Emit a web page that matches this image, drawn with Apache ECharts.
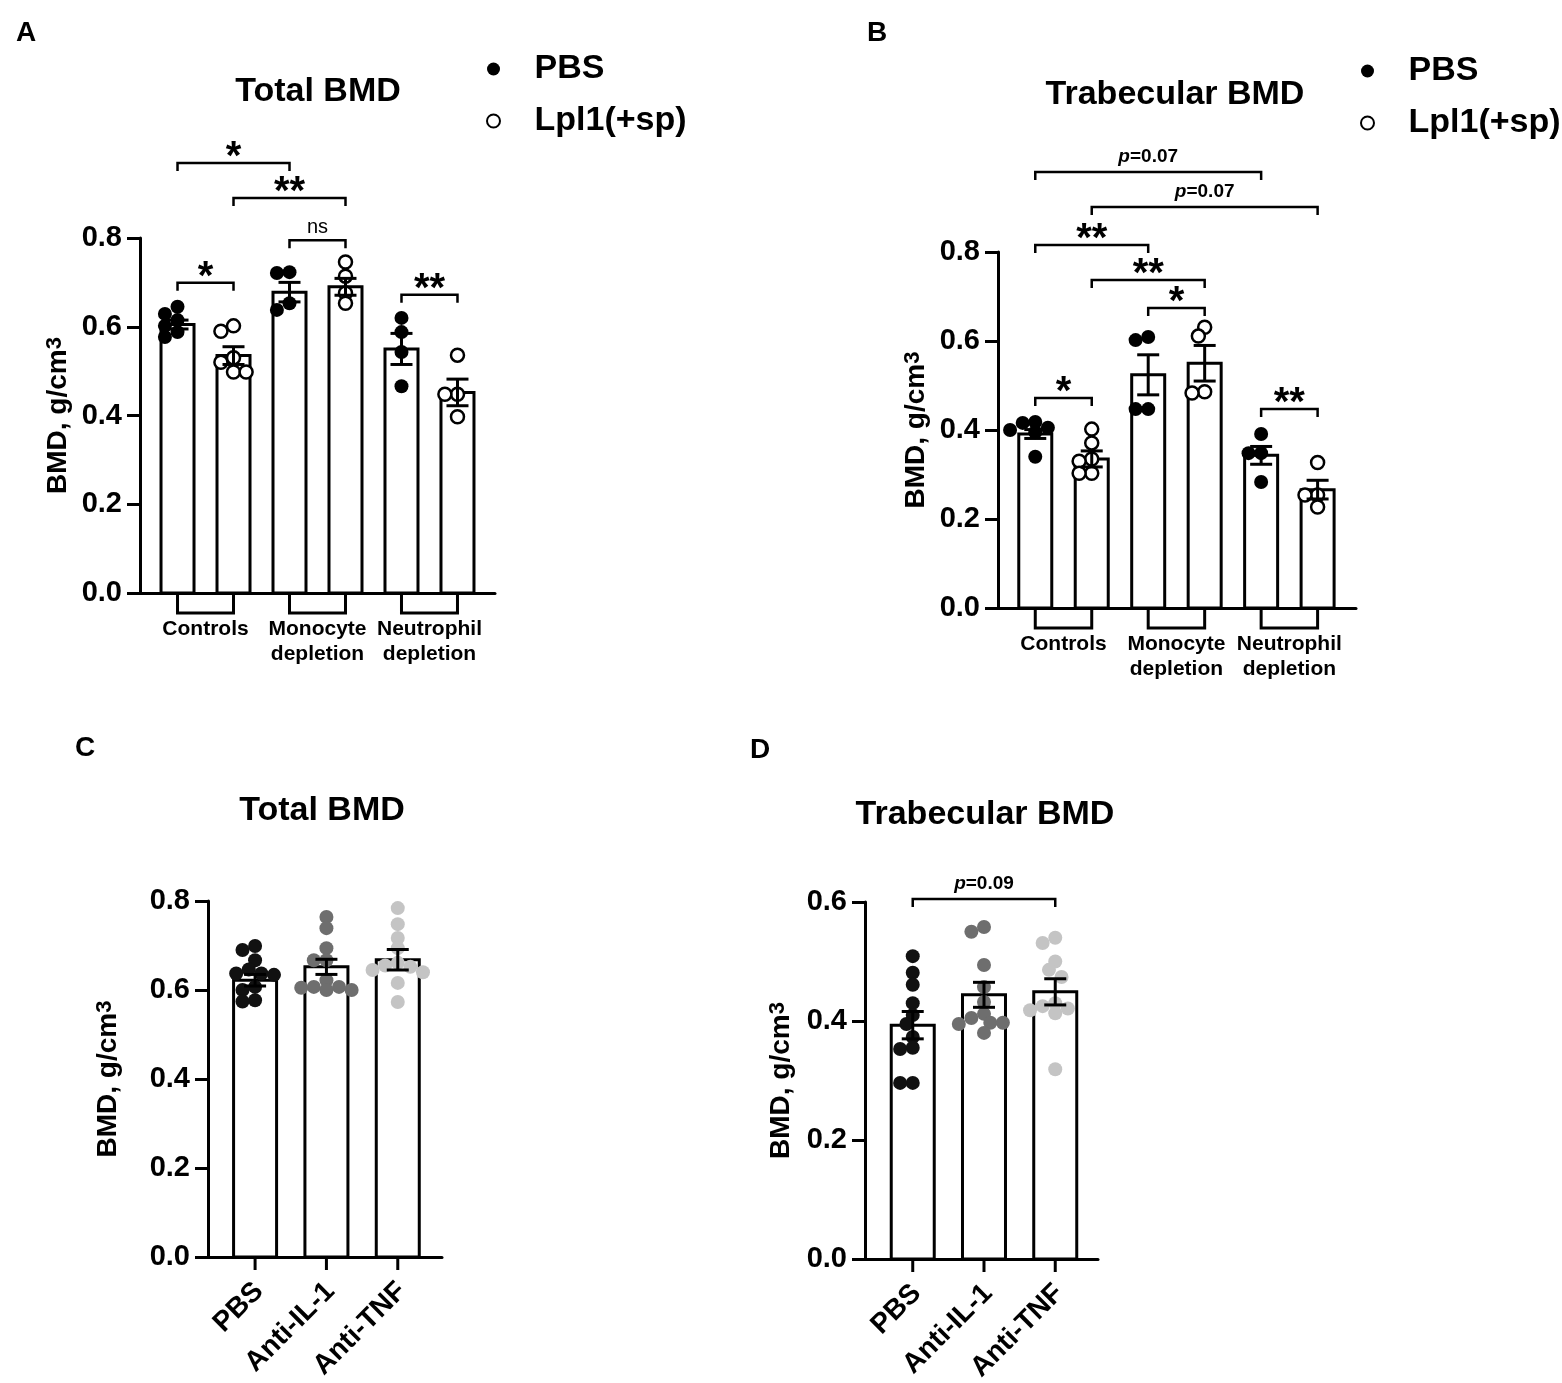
<!DOCTYPE html>
<html lang="en">
<head>
<meta charset="UTF-8">
<title>BMD</title>
<script src="https://cdn.jsdelivr.net/npm/echarts@6.0.0/dist/echarts.min.js"></script>
<style>
    *{
        margin: 0;
        padding: 0;
    }
    body{
        background: #fff;
    }
    .container{
        width: 1562px;
        height: 1383px;
    }
</style>
</head>
<body>
<div class="container"></div>
<script>
    // ---- data ----
    let groupsAB = ['Controls', 'Monocyte\ndepletion', 'Neutrophil\ndepletion']
    let treatments = ['PBS', 'Anti-IL-1', 'Anti-TNF']
    let legendNames = ['PBS', 'Lpl1(+sp)']

    // A: Total BMD, bars in order Controls PBS, Controls Lpl1, Mono PBS, Mono Lpl1, Neut PBS, Neut Lpl1
    let totalMean = [0.605, 0.535, 0.678, 0.690, 0.550, 0.452]
    let totalSem = [0.010, 0.020, 0.022, 0.019, 0.035, 0.030]
    let totalPoints = [
        [0.645, 0.629, 0.615, 0.602, 0.588, 0.577],
        [0.602, 0.590, 0.530, 0.520, 0.498, 0.498],
        [0.723, 0.721, 0.653, 0.638],
        [0.746, 0.714, 0.676, 0.653],
        [0.620, 0.588, 0.543, 0.466],
        [0.536, 0.448, 0.448, 0.397]
    ]
    let totalSig = [[0, 1, 0.699, '*'], [2, 3, 0.795, 'ns'], [4, 5, 0.672, '**'], [0, 2, 0.969, '*'], [1, 3, 0.890, '**']]

    // B: Trabecular BMD
    let trabMean = [0.391, 0.335, 0.524, 0.550, 0.343, 0.266]
    let trabSem = [0.010, 0.018, 0.045, 0.040, 0.020, 0.021]
    let trabPoints = [
        [0.418, 0.416, 0.405, 0.400, 0.395, 0.340],
        [0.402, 0.371, 0.335, 0.330, 0.303, 0.303],
        [0.609, 0.602, 0.447, 0.447],
        [0.631, 0.611, 0.486, 0.483],
        [0.391, 0.348, 0.348, 0.283],
        [0.327, 0.254, 0.254, 0.227]
    ]
    let trabSig = [[0, 1, 0.472, '*'], [2, 3, 0.674, '*'], [4, 5, 0.447, '**'], [0, 2, 0.816, '**'],
        [1, 3, 0.737, '**'], [0, 4, 0.980, 'p=0.07'], [1, 5, 0.901, 'p=0.07']]

    // C: Total BMD after cytokine blockade
    let cytTotalMean = [0.622, 0.652, 0.668]
    let cytTotalSem = [0.013, 0.017, 0.023]
    let cytTotalPoints = [
        [0.699, 0.690, 0.667, 0.646, 0.637, 0.637, 0.634, 0.607, 0.600, 0.577, 0.574],
        [0.764, 0.739, 0.694, 0.667, 0.667, 0.622, 0.607, 0.607, 0.605, 0.600, 0.600],
        [0.784, 0.748, 0.717, 0.694, 0.661, 0.655, 0.652, 0.645, 0.640, 0.616, 0.573]
    ]

    // D: Trabecular BMD after cytokine blockade
    let cytTrabMean = [0.393, 0.444, 0.449]
    let cytTrabSem = [0.023, 0.021, 0.022]
    let cytTrabPoints = [
        [0.509, 0.481, 0.461, 0.430, 0.410, 0.395, 0.373, 0.355, 0.353, 0.296, 0.296],
        [0.558, 0.550, 0.494, 0.457, 0.432, 0.412, 0.405, 0.397, 0.397, 0.395, 0.380],
        [0.540, 0.531, 0.500, 0.486, 0.474, 0.430, 0.425, 0.421, 0.418, 0.413, 0.319]
    ]
    let cytSig = [[0, 2, 0.605, 'p=0.09']]

    // ---- layout ----
    const FONT = '"Liberation Sans", Arial, Helvetica, sans-serif'
    const grids = [
        {left: 140, top: 238, width: 355, height: 355},
        {left: 998, top: 252, width: 358, height: 356},
        {left: 208, top: 901, width: 234, height: 356},
        {left: 865, top: 902, width: 233, height: 357}
    ]
    const xRange = [[-0.67, 5.67], [-0.66, 5.68], [-0.66, 2.62], [-0.67, 2.60]]
    const yMax = [0.8, 0.8, 0.8, 0.6]
    const barPx = [33, 33, 43, 43]
    const dot = 14
    const greys = ['#111111', '#6e6e6e', '#c4c4c4']

    // compact beeswarm worked out in pixels; dots may overlap a little, as in the original
    function swarm(values, center, gi) {
        let g = grids[gi]
        let pxX = g.width / (xRange[gi][1] - xRange[gi][0])
        let pxY = g.height / yMax[gi]
        let placed = []
        let out = []
        let order = values.map((v, i) => i).sort((a, b) => values[b] - values[a])
        order.forEach(i => {
            let py = values[i] * pxY
            let off = 0
            for (let k = 0; k < 9; k++) {
                let cand = k === 0 ? 0 : (k % 2 ? -1 : 1) * Math.ceil(k / 2) * dot * 0.45
                if (placed.every(p => Math.hypot(p[0] - cand, p[1] - py) >= dot * 0.72)) {
                    off = cand
                    break
                }
            }
            placed.push([off, py])
            out[i] = [center + off / pxX, values[i]]
        })
        return out
    }

    function barSeries(gi, means) {
        let w = barPx[gi]
        return {
            type: 'custom', xAxisIndex: gi, yAxisIndex: gi, z: 1, clip: false,
            data: means.map((m, i) => [i, m]),
            renderItem: function (params, api) {
                let top = api.coord([api.value(0), api.value(1)])
                let base = api.coord([api.value(0), 0])
                return {
                    type: 'rect',
                    shape: {x: top[0] - w / 2, y: top[1], width: w, height: base[1] - top[1]},
                    style: {fill: '#fff', stroke: '#000', lineWidth: 3}
                }
            }
        }
    }

    function errSeries(gi, means, sems) {
        let cap = 11
        return {
            type: 'custom', xAxisIndex: gi, yAxisIndex: gi, z: 4, clip: false,
            data: means.map((m, i) => [i, m - sems[i], m + sems[i]]),
            renderItem: function (params, api) {
                let lo = api.coord([api.value(0), api.value(1)])
                let hi = api.coord([api.value(0), api.value(2)])
                let st = {stroke: '#000', lineWidth: 3}
                return {
                    type: 'group',
                    children: [
                        {type: 'line', shape: {x1: lo[0], y1: lo[1], x2: hi[0], y2: hi[1]}, style: st},
                        {type: 'line', shape: {x1: hi[0] - cap, y1: hi[1], x2: hi[0] + cap, y2: hi[1]}, style: st},
                        {type: 'line', shape: {x1: lo[0] - cap, y1: lo[1], x2: lo[0] + cap, y2: lo[1]}, style: st}
                    ]
                }
            }
        }
    }

    function sigSeries(gi, sigs) {
        return {
            type: 'custom', xAxisIndex: gi, yAxisIndex: gi, z: 4, clip: false,
            data: sigs.map(s => [s[0], s[1], s[2]]),
            renderItem: function (params, api) {
                let label = sigs[params.dataIndex][3]
                let a = api.coord([api.value(0), api.value(2)])
                let b = api.coord([api.value(1), api.value(2)])
                let mid = (a[0] + b[0]) / 2
                let text
                if (label.indexOf('*') >= 0) {
                    text = {type: 'text', x: mid, y: a[1] - 5, style: {
                        text: label, fill: '#000', fontSize: 40, fontWeight: 'bold', fontFamily: FONT,
                        align: 'center', verticalAlign: 'middle'}}
                } else if (label.indexOf('p=') === 0) {
                    text = {type: 'text', x: mid, y: a[1] - 6, style: {
                        text: '{i|p}' + label.slice(1), fill: '#000', fontSize: 19, fontWeight: 'bold', fontFamily: FONT,
                        align: 'center', verticalAlign: 'bottom',
                        rich: {i: {fontStyle: 'italic', fontSize: 19, fontWeight: 'bold', fontFamily: FONT, fill: '#000'}}}}
                } else {
                    text = {type: 'text', x: mid, y: a[1] - 3, style: {
                        text: label, fill: '#000', fontSize: 20, fontFamily: FONT,
                        align: 'center', verticalAlign: 'bottom'}}
                }
                return {
                    type: 'group',
                    children: [
                        {type: 'polyline', shape: {points: [[a[0], a[1] + 8], a, b, [b[0], b[1] + 8]]},
                            style: {stroke: '#000', lineWidth: 2.5, fill: null}},
                        text
                    ]
                }
            }
        }
    }

    // bracket under the axis joining each pair of bars, with the group name
    function groupSeries(gi) {
        return {
            type: 'custom', xAxisIndex: gi, yAxisIndex: gi, z: 4, clip: false,
            data: groupsAB.map((g, i) => [i * 2, i * 2 + 1]),
            renderItem: function (params, api) {
                let a = api.coord([api.value(0), 0])
                let b = api.coord([api.value(1), 0])
                return {
                    type: 'group',
                    children: [
                        {type: 'polyline', shape: {points: [a, [a[0], a[1] + 20], [b[0], b[1] + 20], b]},
                            style: {stroke: '#000', lineWidth: 3, fill: null}},
                        {type: 'text', x: (a[0] + b[0]) / 2, y: a[1] + 24, style: {
                            text: groupsAB[params.dataIndex], fill: '#000', fontSize: 21, fontWeight: 'bold',
                            fontFamily: FONT, align: 'center', verticalAlign: 'top', lineHeight: 25}}
                    ]
                }
            }
        }
    }

    function treatmentSeries(gi) {
        return {
            type: 'custom', xAxisIndex: gi, yAxisIndex: gi, z: 4, clip: false,
            data: treatments.map((t, i) => [i, 0]),
            renderItem: function (params, api) {
                let p = api.coord([api.value(0), 0])
                return {
                    type: 'group',
                    children: [
                        {type: 'line', shape: {x1: p[0], y1: p[1], x2: p[0], y2: p[1] + 13},
                            style: {stroke: '#000', lineWidth: 3}},
                        {type: 'text', x: p[0] + 4, y: p[1] + 30, rotation: Math.PI / 4, style: {
                            text: treatments[params.dataIndex], fill: '#000', fontSize: 28, fontWeight: 'bold',
                            fontFamily: FONT, align: 'right', verticalAlign: 'middle'}}
                    ]
                }
            }
        }
    }

    function pairDots(gi, points, which) {
        let data = []
        points.forEach((vals, i) => {
            if (i % 2 === which) data = data.concat(swarm(vals, i, gi))
        })
        return {
            name: legendNames[which], type: 'scatter', xAxisIndex: gi, yAxisIndex: gi, z: 3,
            symbol: 'circle', symbolSize: which ? 13 : 14,
            itemStyle: which ? {color: '#fff', borderColor: '#000', borderWidth: 2.5, opacity: 1}
                : {color: '#000', opacity: 1},
            data
        }
    }

    function greyDots(gi, points) {
        let data = []
        points.forEach((vals, i) => {
            swarm(vals, i, gi).forEach(p => data.push({value: p, itemStyle: {color: greys[i], opacity: 1}}))
        })
        return {type: 'scatter', xAxisIndex: gi, yAxisIndex: gi, z: 3, symbol: 'circle', symbolSize: dot, data}
    }

    function xAxis(gi) {
        return {
            type: 'value', gridIndex: gi, min: xRange[gi][0], max: xRange[gi][1],
            axisLine: {show: true, onZero: false, lineStyle: {color: '#000', width: 3}},
            axisTick: {show: false}, axisLabel: {show: false}, splitLine: {show: false}
        }
    }

    function yAxis(gi, nameGap) {
        return {
            type: 'value', gridIndex: gi, min: 0, max: yMax[gi], interval: 0.2,
            axisLine: {show: true, onZero: false, lineStyle: {color: '#000', width: 3}},
            axisTick: {show: true, length: 13, lineStyle: {color: '#000', width: 3}},
            axisLabel: {margin: 18, color: '#000', fontSize: 29, fontWeight: 'bold', fontFamily: FONT,
                formatter: v => v.toFixed(1)},
            splitLine: {show: false},
            name: 'BMD, g/cm{sup|3}', nameLocation: 'middle', nameGap,
            nameTextStyle: {color: '#000', fontSize: 28, fontWeight: 'bold', fontFamily: FONT,
                rich: {sup: {fontSize: 22, fontWeight: 'bold', fontFamily: FONT, color: '#000', verticalAlign: 'top'}}}
        }
    }

    function legend(left, top) {
        return {
            left, top, orient: 'vertical', padding: 0, itemGap: 18,
            itemWidth: 56, itemHeight: 13, data: legendNames, selectedMode: false,
            textStyle: {color: '#000', fontSize: 34, fontWeight: 'bold', fontFamily: FONT, padding: [0, 0, 0, 8]}
        }
    }

    function label(text, x, y, size) {
        return {type: 'text', x, y, style: {text, fill: '#000', fontSize: size, fontWeight: 'bold',
            fontFamily: FONT, align: 'center', verticalAlign: 'middle'}}
    }

    let container = document.querySelector('.container')
    let chart = echarts.init(container)

    let option = {
        backgroundColor: '#fff',
        animation: false,
        grid: grids.map(g => Object.assign({outerBoundsMode: 'none'}, g)),
        xAxis: [xAxis(0), xAxis(1), xAxis(2), xAxis(3)],
        yAxis: [yAxis(0, 68), yAxis(1, 68), yAxis(2, 86), yAxis(3, 70)],
        legend: [legend(486, 52), legend(1360, 54)],
        graphic: [
            label('A', 26, 33, 28), label('B', 877, 33, 28), label('C', 85, 748, 28), label('D', 760, 750, 28),
            label('Total BMD', 318, 92, 34), label('Trabecular BMD', 1175, 95, 34),
            label('Total BMD', 322, 811, 34), label('Trabecular BMD', 985, 815, 34)
        ],
        series: [
            barSeries(0, totalMean), pairDots(0, totalPoints, 0), pairDots(0, totalPoints, 1),
            errSeries(0, totalMean, totalSem), sigSeries(0, totalSig), groupSeries(0),
            barSeries(1, trabMean), pairDots(1, trabPoints, 0), pairDots(1, trabPoints, 1),
            errSeries(1, trabMean, trabSem), sigSeries(1, trabSig), groupSeries(1),
            barSeries(2, cytTotalMean), greyDots(2, cytTotalPoints), errSeries(2, cytTotalMean, cytTotalSem),
            treatmentSeries(2),
            barSeries(3, cytTrabMean), greyDots(3, cytTrabPoints), errSeries(3, cytTrabMean, cytTrabSem),
            sigSeries(3, cytSig), treatmentSeries(3)
        ]
    }

    chart.setOption(option)
</script>
</body>
</html>
